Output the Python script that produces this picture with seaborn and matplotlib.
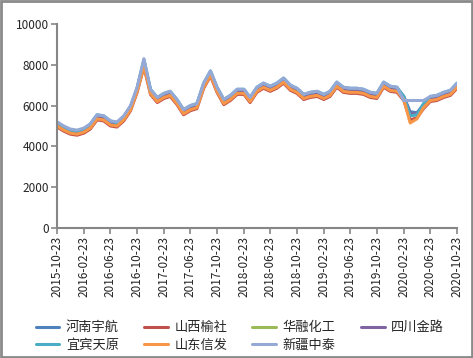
import pandas as pd
import matplotlib
matplotlib.use("Agg")
import matplotlib.pyplot as plt
import seaborn as sns
from matplotlib.patches import Rectangle

# monthly samples from 2015-10-23 to 2020-10-23
start_date = '2015-10-23'
n_points = 61

series_names = ['河南宇航', '山西榆社', '华融化工', '四川金路', '宜宾天原', '山东信发', '新疆中泰']
series_colors = ['#4F81BD', '#C0504D', '#9BBB59', '#8064A2', '#4BACC6', '#F79646', '#95A9D6']

henan = [5150, 4950, 4800, 4750, 4850, 5050, 5500, 5450, 5200, 5150, 5450, 5950, 6850, 8200, 6750, 6350,
         6550, 6650, 6250, 5750, 5950, 6050, 7050, 7650, 6850, 6250, 6450, 6750, 6750, 6350, 6850, 7050,
         6900, 7050, 7300, 6950, 6800, 6500, 6600, 6650, 6500, 6650, 7100, 6850, 6800, 6800, 6750, 6600,
         6550, 7100, 6900, 6850, 6450, 5700, 5650, 6050, 6400, 6450, 6600, 6700, 7050]
shanxi = [4950, 4750, 4600, 4550, 4650, 4850, 5300, 5250, 5000, 4950, 5250, 5750, 6650, 7900, 6550, 6150,
          6350, 6450, 6050, 5550, 5750, 5850, 6850, 7450, 6650, 6050, 6250, 6550, 6550, 6150, 6650, 6850,
          6700, 6850, 7100, 6750, 6600, 6300, 6400, 6450, 6300, 6450, 6900, 6650, 6600, 6600, 6550, 6400,
          6350, 6900, 6700, 6650, 6250, 5300, 5400, 5850, 6200, 6250, 6400, 6500, 6850]
huarong = [5050, 4850, 4700, 4650, 4750, 4950, 5400, 5350, 5100, 5050, 5350, 5850, 6750, 8050, 6650, 6250,
           6450, 6550, 6150, 5650, 5850, 5950, 6950, 7550, 6750, 6150, 6350, 6650, 6650, 6250, 6750, 6950,
           6800, 6950, 7200, 6850, 6700, 6400, 6500, 6550, 6400, 6550, 7000, 6750, 6700, 6700, 6650, 6500,
           6450, 7000, 6800, 6750, 6350, 5550, 5550, 5950, 6300, 6350, 6500, 6600, 6950]
sichuan = [5100, 4900, 4750, 4700, 4800, 5000, 5450, 5400, 5150, 5100, 5400, 5900, 6800, 8150, 6700, 6300,
           6500, 6600, 6200, 5700, 5900, 6000, 7000, 7600, 6800, 6200, 6400, 6700, 6700, 6300, 6800, 7000,
           6850, 7000, 7250, 6900, 6750, 6450, 6550, 6600, 6450, 6600, 7050, 6800, 6750, 6750, 6700, 6550,
           6500, 7050, 6850, 6800, 6400, 5600, 5600, 6000, 6350, 6400, 6550, 6650, 7000]
yibin = [5200, 4950, 4800, 4750, 4850, 5100, 5550, 5500, 5250, 5150, 5450, 5950, 6850, 8250, 6800, 6400,
         6600, 6700, 6300, 5800, 6000, 6100, 7100, 7700, 6900, 6300, 6500, 6800, 6800, 6400, 6900, 7100,
         6950, 7100, 7350, 7000, 6850, 6550, 6650, 6700, 6550, 6700, 7150, 6900, 6850, 6850, 6800, 6650,
         6600, 7150, 6950, 6900, 6450, 5500, 5550, 6100, 6450, 6500, 6650, 6750, 7100]
shandong = [5000, 4800, 4650, 4600, 4700, 4900, 5350, 5300, 5050, 5000, 5300, 5800, 6700, 7950, 6600, 6200,
            6400, 6500, 6100, 5600, 5800, 5900, 6900, 7500, 6700, 6100, 6300, 6600, 6600, 6200, 6700, 6900,
            6750, 6900, 7150, 6800, 6650, 6350, 6450, 6500, 6350, 6500, 6950, 6700, 6650, 6650, 6600, 6450,
            6400, 6950, 6750, 6700, 6300, 5150, 5350, 5900, 6250, 6300, 6450, 6550, 6900]
xinjiang = [5200, 5000, 4850, 4800, 4900, 5100, 5550, 5500, 5250, 5200, 5500, 6000, 6900, 8300, 6800, 6400,
            6600, 6700, 6300, 5800, 6000, 6100, 7100, 7700, 6900, 6300, 6500, 6800, 6800, 6400, 6900, 7100,
            6950, 7100, 7350, 7000, 6850, 6550, 6650, 6700, 6550, 6700, 7150, 6900, 6850, 6850, 6800, 6650,
            6600, 7150, 6950, 6900, 6250, 6250, 6250, 6250, 6450, 6500, 6650, 6750, 7100]

y_ticks = [0, 2000, 4000, 6000, 8000, 10000]

all_values = [henan, shanxi, huarong, sichuan, yibin, shandong, xinjiang]

dates = pd.date_range(start_date, periods=n_points, freq=pd.DateOffset(months=1))
frames = []
for name, vals in zip(series_names, all_values):
    frames.append(pd.DataFrame({'date': dates, 'value': vals, 'series': name}))
df = pd.concat(frames, ignore_index=True)

sns.set_style("white")
plt.rcParams['font.family'] = ['Noto Sans CJK SC', 'DejaVu Sans']

fig = plt.figure(figsize=(4.73, 3.58), dpi=100)
ax = fig.add_axes([57 / 473, 1 - 228 / 358, 400 / 473, 204 / 358])

sns.lineplot(data=df, x='date', y='value', hue='series', hue_order=series_names,
             palette=series_colors, linewidth=2.2, ax=ax, legend=False)

grey = '#868686'
ax.set_xlim(dates[0], dates[-1])
ax.set_ylim(0, 10000)
ax.set_yticks(y_ticks)
ax.set_yticklabels([str(v) for v in y_ticks], fontsize=8.5)
tick_dates = dates[::4]
ax.set_xticks(tick_dates)
ax.set_xticklabels([d.strftime('%Y-%m-%d') for d in tick_dates], rotation=90, fontsize=8.5)
ax.set_xlabel('')
ax.set_ylabel('')
for s in ['top', 'right']:
    ax.spines[s].set_visible(False)
for s in ['left', 'bottom']:
    ax.spines[s].set_color(grey)
    ax.spines[s].set_linewidth(1.5)
ax.tick_params(axis='both', direction='out', length=4, width=1.2, color=grey, pad=2,
               bottom=True, left=True)

# legend reads row by row in the reference, matplotlib fills column by column
order = [0, 4, 1, 5, 2, 6, 3]
handles = [plt.Line2D([0], [0], color=series_colors[i], lw=2.2) for i in order]
labels = [series_names[i] for i in order]
fig.legend(handles, labels, ncol=4, loc='center', bbox_to_anchor=(0.507, 0.06),
           frameon=False, fontsize=9.5, handlelength=1.8, handletextpad=0.5,
           columnspacing=1.9, labelspacing=0.35)

fig.patches.append(Rectangle((0.002, 0.003), 0.996, 0.994, transform=fig.transFigure,
                             fill=False, edgecolor='#8a8a8a', linewidth=2))

fig.savefig('out.png', dpi=100)
